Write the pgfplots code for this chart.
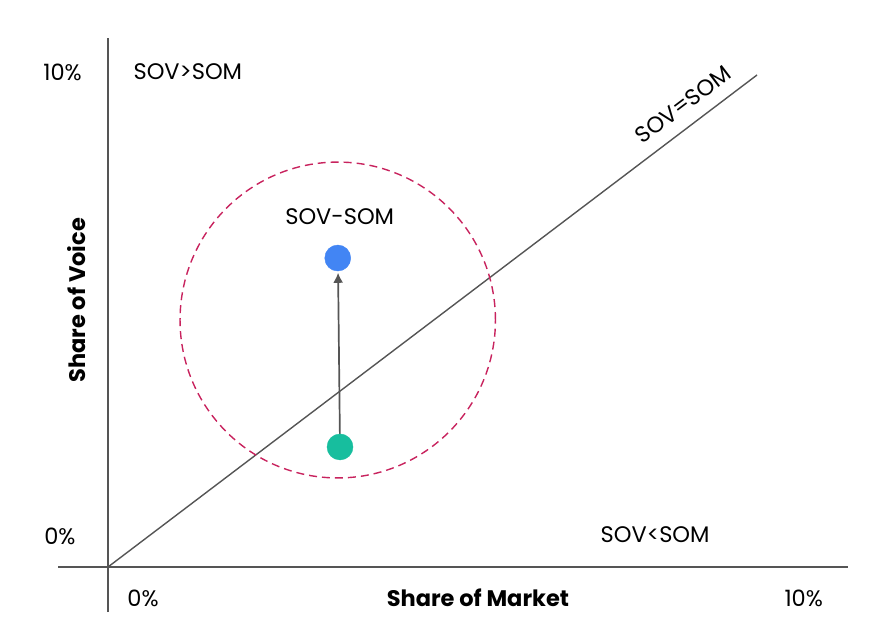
\documentclass[border=0pt]{standalone}
\usepackage{pgfplots}
\pgfplotsset{compat=1.18}
\usetikzlibrary{arrows.meta}
\usepackage{fontspec}
\setmainfont{Poppins}
\definecolor{lineg}{HTML}{555555}
\definecolor{dotblue}{HTML}{4285F4}
\definecolor{dotgreen}{HTML}{17BE9E}
\definecolor{circ}{HTML}{C8235E}
\begin{document}
\begin{tikzpicture}[x=1pt,y=1pt]
\useasboundingbox (-108,-69) rectangle (772,567);
\begin{axis}[
  anchor=origin, at={(0,0)},
  x=64.9pt, y=49.2pt,
  xmin=-0.77, xmax=11.40, ymin=-0.915, ymax=10.75,
  axis lines=middle, axis line style={-, lineg, line width=1.5pt},
  xtick=\empty, ytick=\empty,
  clip=false,
  font=\fontsize{22.5}{26}\selectfont,
]
% diagonal SOV=SOM
\addplot[lineg, line width=1.4pt] coordinates {(0,0) (10,10)};
% circle
\draw[circ, line width=1.4pt, dash pattern=on 8pt off 5pt] (axis cs:3.54,5.02) ellipse [x radius=2.43, y radius=3.21];
% arrow
\addplot[lineg, line width=1.7pt, -{Latex[length=10pt,width=10pt]}] coordinates {(3.575,2.44) (3.545,5.98)};
% points
\addplot[only marks, mark=*, mark size=13pt, dotgreen, mark options={draw=dotgreen, fill=dotgreen}] coordinates {(3.575,2.44)};
\addplot[only marks, mark=*, mark size=13pt, dotblue, mark options={draw=dotblue, fill=dotblue}] coordinates {(3.54,6.28)};
% labels
\node at (axis cs:-0.70,10.06) {10\%};
\node at (axis cs:-0.74,0.63) {0\%};
\node at (axis cs:0.54,-0.63) {0\%};
\node at (axis cs:10.72,-0.63) {10\%};
\node at (axis cs:1.23,10.06) {SOV>SOM};
\node at (axis cs:8.43,0.65) {SOV<SOM};
\node at (axis cs:3.57,7.12) {SOV-SOM};
\node[rotate=37.2] at (axis cs:8.86,9.40) {SOV=SOM};
\node[font=\fontsize{22.5}{26}\selectfont\bfseries] at (axis cs:5.70,-0.63) {Share of Market};
\node[rotate=90, font=\fontsize{22.5}{26}\selectfont\bfseries] at (axis cs:-0.48,5.42) {Share of Voice};
\end{axis}
\end{tikzpicture}
\end{document}
